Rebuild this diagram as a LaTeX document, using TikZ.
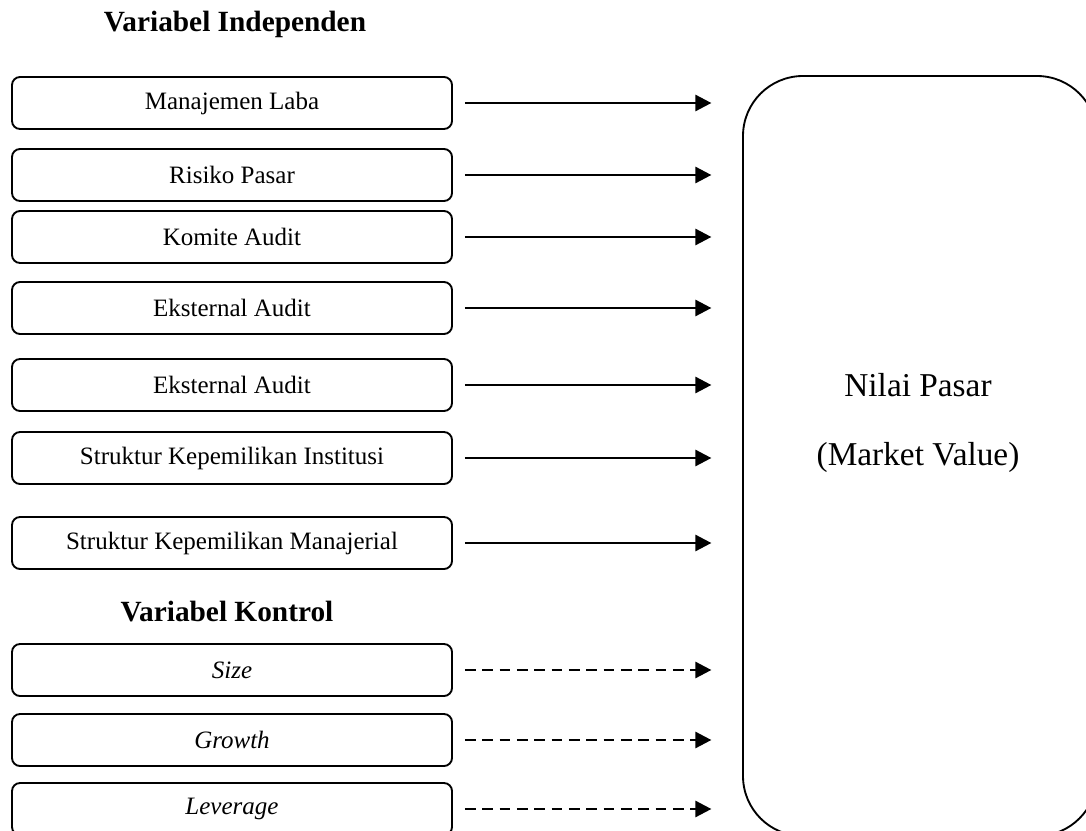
\documentclass[tikz,border=0pt]{standalone}
\usepackage{fontspec}
\setmainfont{Liberation Serif}
\usetikzlibrary{arrows.meta}

\tikzset{
  varbox/.style={draw, line width=1.4pt, rounded corners=6pt,
    minimum width=330pt, minimum height=39pt, text centered,
    font=\fontsize{18.75}{22}\selectfont},
  judul/.style={font=\fontsize{22}{26}\selectfont\bfseries},
  panah/.style={-{Triangle[length=12pt,width=12pt]}, line width=2pt,
    shorten <=9pt, shorten >=23pt},
  panahputus/.style={panah, dash pattern=on 8pt off 5pt},
}

\begin{document}
\begin{tikzpicture}[x=0.75pt, y=-0.75pt]
\clip (0,0) rectangle (1086,831);

    % Variabel dependen
\node (nilai) [draw, line width=1.4pt, rounded corners=45pt,
minimum width=265.5pt, minimum height=570pt] at (920,456) {};
\node (nilai1) [font=\fontsize{25}{30}\selectfont] at (918,385) {Nilai Pasar};
\node (nilai2) [font=\fontsize{25}{30}\selectfont] at (918,457) {(Market Value)};

    % Variabel independen
\node (judulind) [judul] at (235,24) {Variabel Independen};
\node (ml) [varbox] at (232,103) {Manajemen Laba};
\node (rp) [varbox] at (232,175) {Risiko Pasar};
\node (ka) [varbox] at (232,237) {Komite Audit};
\node (ea1) [varbox] at (232,308) {Eksternal Audit};
\node (ea2) [varbox] at (232,385) {Eksternal Audit};
\node (ski) [varbox] at (232,458) {Struktur Kepemilikan Institusi};
\node (skm) [varbox] at (232,543) {Struktur Kepemilikan Manajerial};

\draw[panah] (ml.east) -- (ml.east -| nilai.west);
\draw[panah] (rp.east) -- (rp.east -| nilai.west);
\draw[panah] (ka.east) -- (ka.east -| nilai.west);
\draw[panah] (ea1.east) -- (ea1.east -| nilai.west);
\draw[panah] (ea2.east) -- (ea2.east -| nilai.west);
\draw[panah] (ski.east) -- (ski.east -| nilai.west);
\draw[panah] (skm.east) -- (skm.east -| nilai.west);

    % Variabel kontrol
\node (judulkon) [judul] at (227,612) {Variabel Kontrol};
\node (size) [varbox] at (232,670) {\textit{Size}};
\node (growth) [varbox] at (232,740) {\textit{Growth}};
\node (lev) [varbox] at (232,809) {\textit{Leverage}};

\draw[panahputus] (size.east) -- (size.east -| nilai.west);
\draw[panahputus] (growth.east) -- (growth.east -| nilai.west);
\draw[panahputus] (lev.east) -- (lev.east -| nilai.west);

\end{tikzpicture}
\end{document}
